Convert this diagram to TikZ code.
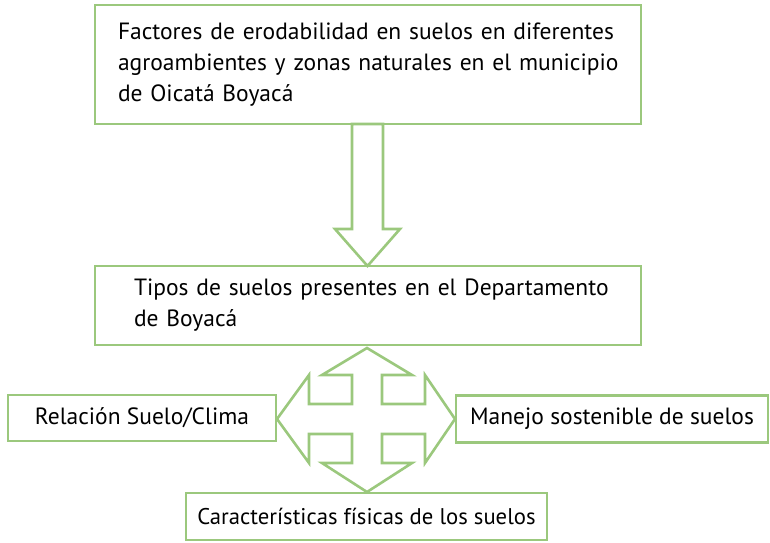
\documentclass[tikz,border=0pt]{standalone}
\usepackage{fontspec}
\setmainfont{PT Sans}
\definecolor{boxgreen}{RGB}{155,200,125}
\begin{document}
\begin{tikzpicture}[x=1pt,y=-1pt,
  box/.style={draw=boxgreen,line width=2.6pt,fill=white,rectangle,inner sep=0pt,
    font=\fontsize{23.5}{31}\selectfont,text=black},
  blockarrow/.style={draw=boxgreen,line width=2.6pt,fill=white,line join=miter}]
\useasboundingbox (0,0) rectangle (770,542);
% top box
\node[box,minimum width=546pt,minimum height=119pt,text width=506pt,align=left] (top) at (368,64.5)
  {\hspace*{3pt}Factores de erodabilidad en suelos en diferentes\\\hspace*{3pt}agroambientes y zonas naturales en el municipio\\\hspace*{3pt}de Oicatá Boyacá};
% middle box
\node[box,minimum width=546pt,minimum height=79pt,text width=506pt,align=left] (mid) at (368,305.5)
  {\hspace*{19pt}Tipos de suelos presentes en el Departamento\\\hspace*{19pt}de Boyacá};
% down arrow
\draw[blockarrow] (352,124) -- (383,124) -- (383,229) -- (400,229) -- (367.5,266) -- (335,229) -- (352,229) -- cycle;
% side boxes
\node[box,minimum width=268pt,minimum height=46pt] (left) at (142,418) {Relación Suelo/Clima};
\node[box,minimum width=312pt,minimum height=47pt] (right) at (612,419) {Manejo sostenible de suelos};
\node[box,minimum width=361pt,minimum height=47pt,font=\fontsize{22.7}{31}\selectfont] (bottom) at (366.5,516.5) {Características físicas de los suelos};
% cross arrow
\draw[blockarrow] (367,348) -- (412,375) -- (382,375) -- (382,404) -- (425,404) -- (425,375)
  -- (455,419) -- (425,463) -- (425,434) -- (382,434) -- (382,463) -- (412,463)
  -- (367,492) -- (322,463) -- (352,463) -- (352,434) -- (309,434) -- (309,463)
  -- (277,419) -- (309,375) -- (309,404) -- (352,404) -- (352,375) -- (322,375) -- cycle;
\end{tikzpicture}
\end{document}
